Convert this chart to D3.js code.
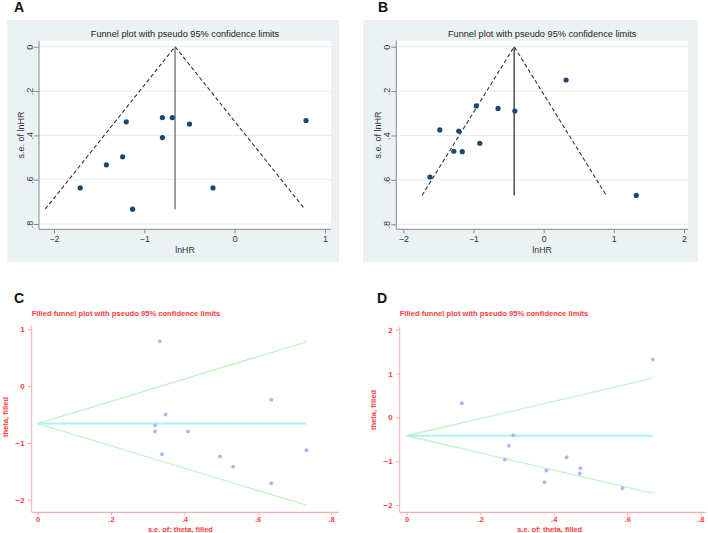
<!DOCTYPE html>
<html><head><meta charset="utf-8">
<script src="https://cdn.jsdelivr.net/npm/d3@7"></script>
<style>
html,body{margin:0;padding:0;background:#fff;}
svg{display:block;font-family:"Liberation Sans",Arial,sans-serif;}
</style></head>
<body>
<svg id="chart" width="708" height="533"></svg>
<script>
// ---------- data ----------
// Panel A / C (same studies)
const lnHR_A = [-1.71, -1.42, -1.24, -1.20, -1.13, -0.80, -0.80, -0.69, -0.50, -0.24, 0.79];
const se_A   = [0.637, 0.533, 0.497, 0.339, 0.733, 0.320, 0.410, 0.320, 0.349, 0.637, 0.333];
const pooled_A = -0.66;
// Panel B / D (same studies)
const lnHR_B = [-1.62, -1.48, -1.28, -1.16, -1.21, -0.96, -0.91, -0.65, -0.41, 0.32, 1.32];
const se_B   = [0.587, 0.375, 0.471, 0.473, 0.380, 0.267, 0.435, 0.278, 0.290, 0.150, 0.670];
const pooled_B = -0.42;

const xTicks_A = [-2, -1, 0, 1];
const xTicks_B = [-2, -1, 0, 1, 2];
const seTicks  = [0, 0.2, 0.4, 0.6, 0.8];
const thetaTicks_C = [1, 0, -1, -2];
const thetaTicks_D = [2, 1, 0, -1, -2];

const topTitle = "Funnel plot with pseudo 95% confidence limits";
const filledTitle = "Filled funnel plot with pseudo 95% confidence limits";

// ---------- helpers ----------
const svg = d3.select("#chart");
const fmt = d => d === 0 ? "0" : String(d).replace(/^(-?)0\./, "$1.");
const Z = 1.96;
const FF = "Liberation Sans, Arial, sans-serif";

function funnelPanel(o) {
  const g = svg.append("g");
  const [bx0, by0, bx1, by1] = o.box;
  const [px0, py0, px1, py1] = o.plot;
  g.append("rect").attr("x", bx0).attr("y", by0).attr("width", bx1 - bx0).attr("height", by1 - by0)
    .attr("fill", "#eaf2f3");
  g.append("rect").attr("x", px0).attr("y", py0).attr("width", px1 - px0).attr("height", py1 - py0)
    .attr("fill", "#ffffff");
  const x = d3.scaleLinear().domain(o.xDomain).range(o.xRange);
  const y = d3.scaleLinear().domain([0, 0.8]).range(o.yRange);
  // gridlines
  g.selectAll(".grid").data(seTicks).join("line")
    .attr("x1", px0).attr("x2", px1).attr("y1", d => y(d)).attr("y2", d => y(d))
    .attr("stroke", "#e3ecee").attr("stroke-width", 1);
  // axes
  const yAxis = d3.axisLeft(y).tickValues(seTicks).tickFormat(fmt).tickSize(5).tickPadding(4);
  const ya = g.append("g").attr("transform", `translate(${px0},0)`).call(yAxis);
  ya.select(".domain").attr("d", `M0,${py0}V${py1}`).attr("stroke", "#8a8a8a");
  ya.selectAll(".tick line").attr("stroke", "#8a8a8a");
  ya.selectAll(".tick text").attr("font-size", 9).attr("fill", "#333")
    .attr("text-anchor", "middle").attr("x", 0).attr("dy", "0.35em")
    .attr("transform", "translate(-9.5,0) rotate(-90)");
  const xAxis = d3.axisBottom(x).tickValues(o.xTicks).tickFormat(d3.format("d")).tickSize(4).tickPadding(2);
  const xa = g.append("g").attr("transform", `translate(0,${py1})`).call(xAxis);
  xa.select(".domain").attr("d", `M${px0},0H${px1}`).attr("stroke", "#8a8a8a");
  xa.selectAll(".tick line").attr("stroke", "#8a8a8a");
  xa.selectAll(".tick text").attr("font-size", 8.8).attr("fill", "#333");
  xa.selectAll("text").attr("font-family", FF);
  ya.selectAll("text").attr("font-family", FF);
  // funnel
  const maxSE = d3.max(o.se);
  const fun = [[o.pooled - Z * maxSE, maxSE], [o.pooled, 0], [o.pooled + Z * maxSE, maxSE]];
  g.append("path").attr("d", d3.line().x(d => x(d[0])).y(d => y(d[1]))(fun))
    .attr("fill", "none").attr("stroke", "#333").attr("stroke-width", 1.1).attr("stroke-dasharray", "4,2.5");
  g.append("line").attr("x1", x(o.pooled)).attr("x2", x(o.pooled)).attr("y1", y(0)).attr("y2", y(maxSE))
    .attr("stroke", o.vColor).attr("stroke-width", 1.4);
  // points
  g.selectAll(".pt").data(o.est.map((v, i) => [v, o.se[i]])).join("circle")
    .attr("cx", d => x(d[0])).attr("cy", d => y(d[1])).attr("r", 2.6).attr("fill", "#1a476f");
  // titles
  const cx = (px0 + px1) / 2;
  g.append("text").attr("x", cx).attr("y", 37).attr("text-anchor", "middle")
    .attr("font-size", 9.2).attr("fill", "#222").text(topTitle);
  g.append("text").attr("x", cx).attr("y", 252.5).attr("text-anchor", "middle")
    .attr("font-size", 8.8).attr("fill", "#333").text("lnHR");
  g.append("text").attr("transform", `translate(${px0 - 15.5},${(py0 + py1) / 2}) rotate(-90)`)
    .attr("text-anchor", "middle").attr("font-size", 9).attr("fill", "#333").text("s.e. of lnHR");
  g.append("text").attr("x", o.letterX).attr("y", 12).attr("font-size", 14).attr("font-weight", "bold")
    .attr("fill", "#111").text(o.letter);
}

function filledPanel(o) {
  const g = svg.append("g");
  const red = "#ff3b3b", pink = "#ffabab";
  const x = d3.scaleLinear().domain([0, 0.8]).range(o.xRange);
  const y = d3.scaleLinear().domain(o.yDomain).range(o.yRange);
  const [ax0, ayTop, ax1, ay] = o.axes;
  const yAxis = d3.axisLeft(y).tickValues(o.yTicks).tickFormat(d3.format("d")).tickSize(4).tickPadding(3);
  const ya = g.append("g").attr("transform", `translate(${ax0},0)`).call(yAxis);
  ya.select(".domain").attr("d", `M0,${ayTop}V${ay}`).attr("stroke", pink);
  ya.selectAll(".tick line").attr("stroke", pink);
  ya.selectAll(".tick text").attr("font-size", 8).attr("fill", red).attr("font-weight", "bold");
  const xAxis = d3.axisBottom(x).tickValues(seTicks).tickFormat(fmt).tickSize(3).tickPadding(1);
  const xa = g.append("g").attr("transform", `translate(0,${ay})`).call(xAxis);
  xa.select(".domain").attr("d", `M${ax0},0H${ax1}`).attr("stroke", pink).attr("stroke-width", 1.2);
  xa.selectAll(".tick line").attr("stroke", pink);
  xa.selectAll(".tick text").attr("font-size", 7.6).attr("fill", red).attr("font-weight", "bold");
  g.selectAll("text").attr("font-family", FF);
  const maxSE = d3.max(o.se);
  // limits
  const line = d3.line().x(d => x(d[0])).y(d => y(d[1]));
  g.append("path").attr("d", line([[0, o.pooled], [maxSE, o.pooled + Z * maxSE]]))
    .attr("fill", "none").attr("stroke", "#c4f2c4").attr("stroke-width", 1.3);
  g.append("path").attr("d", line([[0, o.pooled], [maxSE, o.pooled - Z * maxSE]]))
    .attr("fill", "none").attr("stroke", "#c4f2c4").attr("stroke-width", 1.3);
  g.append("path").attr("d", line([[0, o.pooled], [maxSE, o.pooled]]))
    .attr("fill", "none").attr("stroke", "#a6f4f4").attr("stroke-width", 2);
  g.selectAll(".pt").data(o.est.map((v, i) => [o.se[i], v])).join("circle")
    .attr("cx", d => x(d[0])).attr("cy", d => y(d[1])).attr("r", 2).attr("fill", "#b6b6f4");
  // texts
  g.append("text").attr("x", ax0).attr("y", 316).attr("font-size", 7.6).attr("font-weight", "bold")
    .attr("fill", red).text(filledTitle);
  g.append("text").attr("x", (o.xRange[0] + x(0.8)) / 2 - 4).attr("y", 531.5).attr("text-anchor", "middle")
    .attr("font-size", 7.4).attr("font-weight", "bold").attr("fill", red).text("s.e. of: theta, filled");
  g.append("text").attr("transform", `translate(${o.yLabelX},${o.yLabelY}) rotate(-90)`)
    .attr("text-anchor", "middle").attr("font-size", 7.6).attr("font-weight", "bold").attr("fill", red)
    .text("theta, filled");
  g.append("text").attr("x", o.letterX).attr("y", 302.5).attr("font-size", 14).attr("font-weight", "bold")
    .attr("fill", "#111").text(o.letter);
}

funnelPanel({letter: "A", letterX: 14, box: [7, 20, 339, 262], plot: [39, 40.7, 331, 229.3],
  xDomain: [-2, 1], xRange: [54, 325], yRange: [46.7, 224], xTicks: xTicks_A, vColor: "#777",
  est: lnHR_A, se: se_A, pooled: pooled_A});
funnelPanel({letter: "B", letterX: 378, box: [363, 20, 698, 262], plot: [396.3, 40.7, 688, 229.3],
  xDomain: [-2, 2], xRange: [403.3, 684], yRange: [46.7, 224.3], xTicks: xTicks_B, vColor: "#444",
  est: lnHR_B, se: se_B, pooled: pooled_B});
filledPanel({letter: "C", letterX: 14, xRange: [37.7, 331], yDomain: [1, -2], yRange: [329.3, 499.7],
  axes: [31.7, 326, 338.3, 512.3], yTicks: thetaTicks_C, yLabelX: 8, yLabelY: 417,
  est: lnHR_A, se: se_A, pooled: pooled_A});
filledPanel({letter: "D", letterX: 377, xRange: [406.7, 700.7], yDomain: [2, -2], yRange: [329.7, 505],
  axes: [399.7, 326.5, 705.7, 512.3], yTicks: thetaTicks_D, yLabelX: 376, yLabelY: 410,
  est: lnHR_B, se: se_B, pooled: pooled_B});
</script>
</body></html>
